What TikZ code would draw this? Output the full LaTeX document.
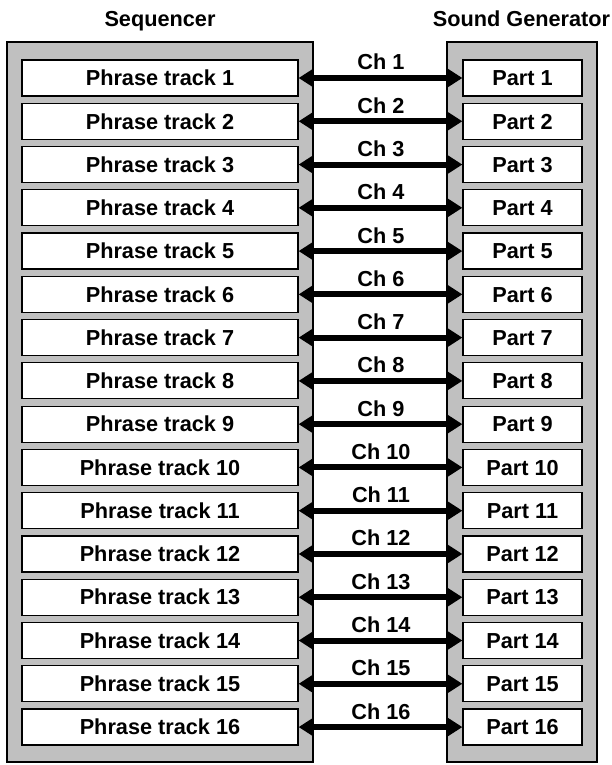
\documentclass[tikz,border=0pt]{standalone}
\usepackage{fontspec}
\setmainfont{Liberation Sans}
\usetikzlibrary{arrows.meta}
\tikzset{
  panel/.style={draw=black, line width=1.3bp, fill={rgb,255:red,192;green,192;blue,192}, inner sep=0pt},
  cell/.style={draw=black, line width=1.2bp, fill=white, inner sep=0pt, minimum height=36bp, text height=15.5bp, text depth=0pt},
  chan/.style={line width=6bp, {Triangle[length=15bp,width=18bp]}-{Triangle[length=15bp,width=18bp]}},
  txt/.style={font=\fontsize{21.7bp}{26bp}\selectfont\bfseries},
  lbl/.style={txt, anchor=base, inner sep=0pt}
}
\begin{document}
\begin{tikzpicture}[x=1bp, y=-1bp, txt]
\useasboundingbox (0,0) rectangle (612,765);
\node[panel, minimum width=306bp, minimum height=720bp] (seq) at (160,402) {};
\node[panel, minimum width=150bp, minimum height=720bp] (gen) at (522,402) {};
\node[lbl] (tseq) at (160,27) {Sequencer};
\node[lbl] (tgen) at (521.5,27) {Sound Generator};
\foreach \i in {1,...,16}{
  \pgfmathsetmacro{\yy}{78+(\i-1)*43.27}
  \node[cell, minimum width=276bp] (L\i) at (160,\yy) {Phrase track \i};
  \node[cell, minimum width=119bp] (R\i) at (522.5,\yy) {Part \i};
  \draw[chan] (L\i.east) -- (R\i.west);
  \node[lbl] (C\i) at (381,\yy-8) {Ch \i};
}
\end{tikzpicture}
\end{document}
